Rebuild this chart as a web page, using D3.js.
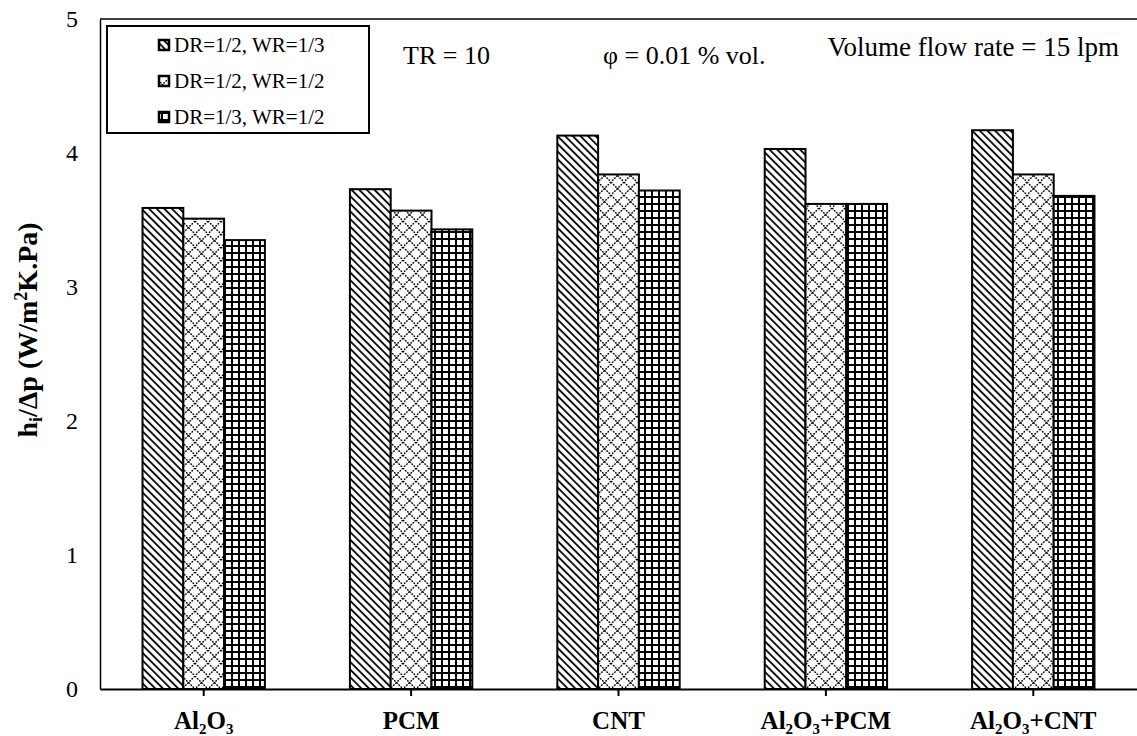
<!DOCTYPE html>
<html>
<head>
<meta charset="utf-8">
<script src="https://cdn.jsdelivr.net/npm/d3@7"></script>
<style>
  html, body { margin: 0; padding: 0; background: #fff; }
  svg { display: block; }
  text { font-family: "Liberation Serif", "Times New Roman", serif; fill: #000; }
</style>
</head>
<body>
<svg id="chart" width="1137" height="736"></svg>
<script>
// Nanofluid types on the x axis
const categories = ["Al₂O₃", "PCM", "CNT", "Al₂O₃+PCM", "Al₂O₃+CNT"];
// Geometry cases (legend entries)
const seriesNames = ["DR=1/2, WR=1/3", "DR=1/2, WR=1/2", "DR=1/3, WR=1/2"];
// h_i/Δp values per geometry case, one per nanofluid
const seriesA = [3.59, 3.73, 4.13, 4.03, 4.17];
const seriesB = [3.51, 3.57, 3.84, 3.62, 3.84];
const seriesC = [3.35, 3.43, 3.72, 3.62, 3.68];
const yTicks = [0, 1, 2, 3, 4, 5];

const series = [seriesA, seriesB, seriesC];
const patternIds = ["pat-diag", "pat-diamond", "pat-grid"];
const serif = "Liberation Serif";

const svg = d3.select("#chart");
const defs = svg.append("defs");

// Hatch fills
const p1 = defs.append("pattern").attr("id", "pat-diag")
  .attr("patternUnits", "userSpaceOnUse").attr("width", 5.4).attr("height", 5.4)
  .attr("patternTransform", "rotate(-45)");
p1.append("rect").attr("width", 5.4).attr("height", 5.4).attr("fill", "#fff");
p1.append("line").attr("x1", 1).attr("y1", 0).attr("x2", 1).attr("y2", 5.4)
  .attr("stroke", "#000").attr("stroke-width", 1.8);

const p2 = defs.append("pattern").attr("id", "pat-diamond")
  .attr("patternUnits", "userSpaceOnUse").attr("width", 13).attr("height", 13);
p2.append("rect").attr("width", 13).attr("height", 13).attr("fill", "#fff");
p2.append("path").attr("d", "M0,0L13,13M13,0L0,13")
  .attr("stroke", "#000").attr("stroke-width", 1.4).attr("stroke-dasharray", "1.8 1.2")
  .attr("fill", "none");

const p3 = defs.append("pattern").attr("id", "pat-grid")
  .attr("patternUnits", "userSpaceOnUse").attr("width", 7).attr("height", 7);
p3.append("rect").attr("width", 7).attr("height", 7).attr("fill", "#fff");
p3.append("path").attr("d", "M1,0V7M0,1H7")
  .attr("stroke", "#000").attr("stroke-width", 2).attr("fill", "none");

const plotLeft = 100, plotRight = 1137, plotTop = 19, plotBottom = 689;

const x0 = d3.scaleBand().domain(categories).range([plotLeft, plotRight])
  .paddingInner(0.41).paddingOuter(0.205);
const x1 = d3.scaleBand().domain(d3.range(series.length)).range([0, x0.bandwidth()]);
const y = d3.scaleLinear().domain([0, 5]).range([plotBottom, plotTop]);

// Bars
series.forEach((vals, si) => {
  svg.append("g").selectAll("rect").data(vals).join("rect")
    .attr("x", (d, i) => x0(categories[i]) + x1(si))
    .attr("y", d => y(d))
    .attr("width", x1.bandwidth())
    .attr("height", d => y(0) - y(d))
    .attr("fill", `url(#${patternIds[si]})`)
    .attr("stroke", "#000").attr("stroke-width", 2);
});

// Plot frame: top edge
svg.append("line").attr("x1", plotLeft).attr("x2", plotRight).attr("y1", plotTop).attr("y2", plotTop)
  .attr("stroke", "#000").attr("stroke-width", 1.5);

// Y axis (labels only)
const yAxis = svg.append("g").attr("transform", `translate(${plotLeft},0)`)
  .call(d3.axisLeft(y).tickValues(yTicks).tickSize(0).tickPadding(22).tickFormat(d3.format("d")));
yAxis.attr("font-family", serif);
yAxis.select(".domain").attr("stroke", "#000").attr("stroke-width", 1.5);
yAxis.selectAll("text").style("font-family", serif).style("font-size", "24px");

// X axis
const xAxis = svg.append("g").attr("transform", `translate(0,${plotBottom})`)
  .call(d3.axisBottom(x0).tickSize(7).tickSizeOuter(0).tickPadding(15));
xAxis.attr("font-family", serif);
xAxis.select(".domain").attr("stroke", "#000").attr("stroke-width", 2);
xAxis.selectAll(".tick line").attr("stroke", "#000").attr("stroke-width", 2);
xAxis.selectAll("text").style("font-family", serif)
  .style("font-size", "25px").style("font-weight", "bold");

// Y axis title
const yt = svg.append("text")
  .attr("transform", "translate(37,330) rotate(-90)")
  .attr("text-anchor", "middle")
  .style("font-family", serif)
  .style("font-size", "28px").style("font-weight", "bold");
yt.append("tspan").text("h");
yt.append("tspan").attr("dy", 5).style("font-size", "18px").text("i");
yt.append("tspan").attr("dy", -5).text("/Δp (W/m");
yt.append("tspan").attr("dy", -10).style("font-size", "18px").text("2");
yt.append("tspan").attr("dy", 10).text("K.Pa)");

// Legend
const lg = svg.append("g");
lg.append("rect").attr("x", 107).attr("y", 26).attr("width", 262).attr("height", 107)
  .attr("fill", "#fff").attr("stroke", "#000").attr("stroke-width", 2);
seriesNames.forEach((name, i) => {
  const cy = 45 + i * 36;
  lg.append("rect").attr("x", 159).attr("y", cy - 5).attr("width", 10).attr("height", 10)
    .attr("fill", `url(#${patternIds[i]})`).attr("stroke", "#000").attr("stroke-width", 2.5);
  lg.append("text").attr("x", 174).attr("y", cy + 7)
    .style("font-family", serif).style("font-size", "21px").text(name);
});

// Annotations
svg.append("text").attr("x", 403).attr("y", 64)
  .style("font-family", serif).style("font-size", "26px").text("TR = 10");
svg.append("text").attr("x", 603).attr("y", 64)
  .style("font-family", serif).style("font-size", "26px").text("φ = 0.01 % vol.");
svg.append("text").attr("x", 1119).attr("y", 56).attr("text-anchor", "end")
  .style("font-family", serif).style("font-size", "27px").text("Volume flow rate = 15 lpm");
</script>
</body>
</html>
